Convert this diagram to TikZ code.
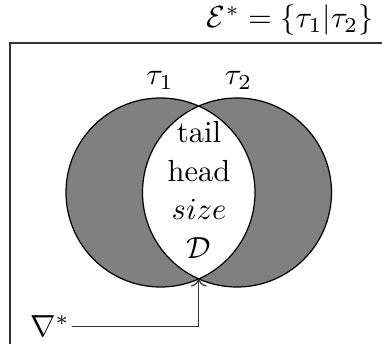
\documentclass[tikz,border=0pt]{standalone}
\usepackage{amsmath, amssymb}
\usepackage{tikz}
\usepackage{xcolor}
\definecolor{SetGray}{RGB}{128, 128, 128}
\usetikzlibrary{arrows.meta, positioning}

\begin{document}
\begin{tikzpicture}[
    x=0.328pt, y=-0.328pt,
    setlabel/.style={anchor=base, inner sep=0pt},
    frame/.style={draw=black!80},
    arrow/.style={->, black!80}
]

\clip (0,0) rectangle (382,344);

% Frame and title
\draw[frame] (10,400) |- (420,43);
\node[anchor=base east, inner sep=0pt] (title) at (374,28) {$\mathcal{E}^* = \{\tau_1|\tau_2\}$};

% Sets
\coordinate (c1) at (160.5,192.5);
\coordinate (c2) at (237,192.5);
\coordinate (meet) at (198.75,279);
\fill[SetGray] (c1) circle (94.5) (c2) circle (94.5);
\begin{scope}
    \clip (c1) circle (94.5);
    \fill[white] (c2) circle (94.5);
\end{scope}
\draw (c1) circle (94.5) (c2) circle (94.5);

\node[setlabel] (t1) at (160,85) {$\tau_1$};
\node[setlabel] (t2) at (238.5,85) {$\tau_2$};

% Fields in the lens
\node[align=center] (fields) at (199,190) {tail\\[0.6pt] head\\[0.6pt] $size$\\[0.6pt] $\mathcal{D}$};

% Pointer
\node[anchor=base west, inner sep=0.5pt] (nabla) at (28,337) {$\nabla^*$};
\draw[arrow] (nabla.east) -| (meet);

\end{tikzpicture}
\end{document}
